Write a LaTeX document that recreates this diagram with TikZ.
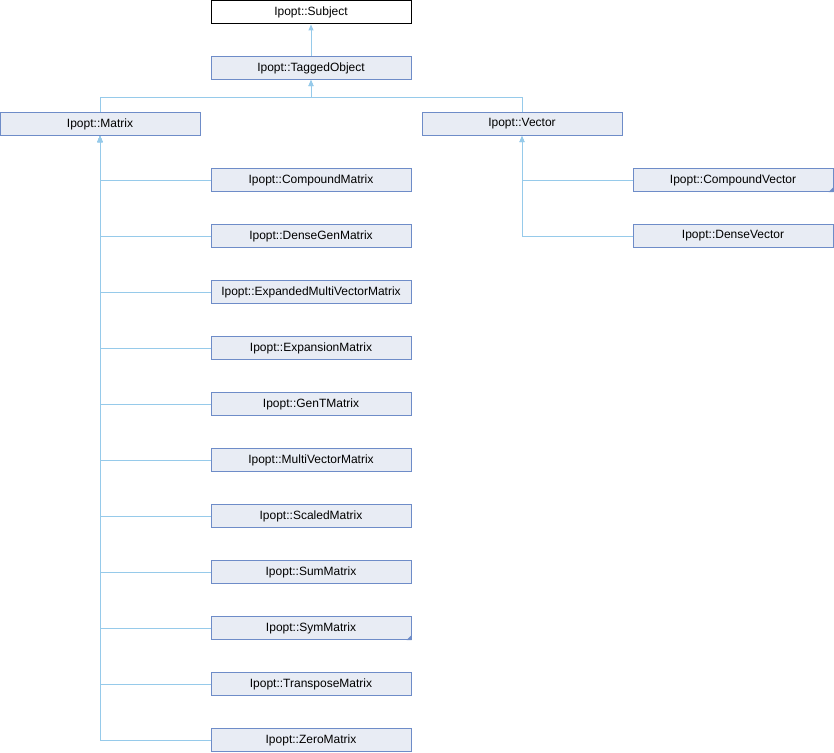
\documentclass[tikz,border=0pt]{standalone}
\usepackage{fontspec}
\setmainfont{Liberation Sans}
\usetikzlibrary{arrows.meta,positioning}
\definecolor{boxfill}{RGB}{232,236,244}
\definecolor{boxline}{RGB}{110,140,200}
\definecolor{edgeblue}{RGB}{150,202,234}

\tikzset{
  cls/.style={draw=boxline, fill=boxfill, line width=1pt, minimum width=200pt,
    minimum height=23pt, inner sep=0pt, font=\fontsize{12}{14}\selectfont},
  root/.style={cls, draw=black, fill=white},
  inh/.style={draw=edgeblue, line width=1pt, {Triangle[length=6pt,width=5pt]}-},
  more/.style={fill=boxline}
}

\begin{document}
\begin{tikzpicture}[x=1pt, y=-1pt, node distance=32pt]
                    \useasboundingbox (0,0) rectangle (834,752);
                    \node[root] (subject) at (311,12.5) {Ipopt::Subject};
                    \node[cls] (tagged) at (311,68) {Ipopt::TaggedObject};
                    \node[cls] (matrix) at (100,124) {Ipopt::Matrix};
                    \node[cls] (vector) at (522,124) {Ipopt::Vector};
                    % matrix children
                    \node[cls] (compmat) at (311,180) {Ipopt::CompoundMatrix};
                    \node[cls, below=of compmat] (densemat) {Ipopt::DenseGenMatrix};
                    \node[cls, below=of densemat] (expmvmat) {Ipopt::ExpandedMultiVectorMatrix};
                    \node[cls, below=of expmvmat] (expmat) {Ipopt::ExpansionMatrix};
                    \node[cls, below=of expmat] (gentmat) {Ipopt::GenTMatrix};
                    \node[cls, below=of gentmat] (mvmat) {Ipopt::MultiVectorMatrix};
                    \node[cls, below=of mvmat] (scaledmat) {Ipopt::ScaledMatrix};
                    \node[cls, below=of scaledmat] (summat) {Ipopt::SumMatrix};
                    \node[cls, below=of summat] (symmat) {Ipopt::SymMatrix};
                    \node[cls, below=of symmat] (transmat) {Ipopt::TransposeMatrix};
                    \node[cls, below=of transmat] (zeromat) {Ipopt::ZeroMatrix};
                    % vector children
                    \node[cls] (compvec) at (733,180) {Ipopt::CompoundVector};
                    \node[cls, below=of compvec] (densevec) {Ipopt::DenseVector};
                    % derived-class marks
                    \fill[more] (symmat.south east) -- ++(-5,0) -- ++(5,-5) -- cycle;
                    \fill[more] (compvec.south east) -- ++(-5,0) -- ++(5,-5) -- cycle;
                    % inheritance
                    \draw[inh] (subject.south) -- (tagged.north);
                    \draw[inh] (tagged.south) -- ++(0,17) -| (matrix.north);
                    \draw[inh] (tagged.south) -- ++(0,17) -| (vector.north);
                    \draw[inh] (matrix.south) |- (compmat.west);
                    \draw[inh] (matrix.south) |- (densemat.west);
                    \draw[inh] (matrix.south) |- (expmvmat.west);
                    \draw[inh] (matrix.south) |- (expmat.west);
                    \draw[inh] (matrix.south) |- (gentmat.west);
                    \draw[inh] (matrix.south) |- (mvmat.west);
                    \draw[inh] (matrix.south) |- (scaledmat.west);
                    \draw[inh] (matrix.south) |- (summat.west);
                    \draw[inh] (matrix.south) |- (symmat.west);
                    \draw[inh] (matrix.south) |- (transmat.west);
                    \draw[inh] (matrix.south) |- (zeromat.west);
                    \draw[inh] (vector.south) |- (compvec.west);
                    \draw[inh] (vector.south) |- (densevec.west);
                \end{tikzpicture}
\end{document}
